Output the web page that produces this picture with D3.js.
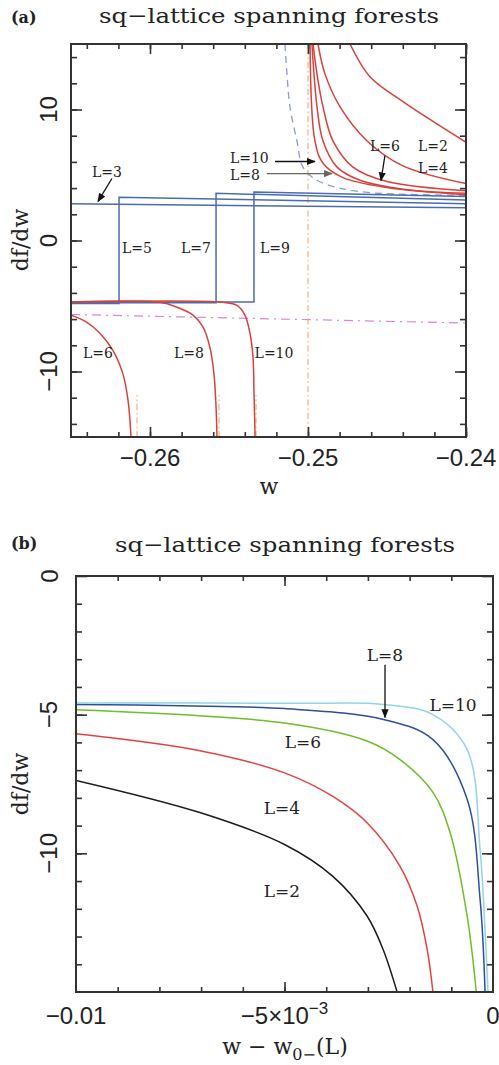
<!DOCTYPE html>
<html>
<head>
<meta charset="utf-8">
<script src="https://cdn.jsdelivr.net/npm/d3@7"></script>
<style>
body { margin: 0; background: #fff; }
svg { display: block; }
</style>
</head>
<body>
<svg id="canvas"></svg>
<script>
// ---------- panel (a) data: df/dw vs w ----------
let aMajorX = [-0.26, -0.25, -0.24]
let aMajorY = [-10, 0, 10]

// blue step curves (odd L)
let stepL3 = [[-0.265, 2.8], [-0.24, 2.5]]
let stepL5 = [[-0.265, -4.8], [-0.26196, -4.8], [-0.26196, 3.3], [-0.24, 2.8]]
let stepL7 = [[-0.265, -4.75], [-0.25582, -4.75], [-0.25582, 3.6], [-0.24, 3.1]]
let stepL9 = [[-0.265, -4.7], [-0.25342, -4.7], [-0.25342, 3.7], [-0.24, 3.35]]

// red curves right of w = -1/4 (even L)
let upL2 = [[-0.24734, 15], [-0.24608, 12.5], [-0.24399, 10.6], [-0.24184, 8.9], [-0.24, 7.5]]
let upL4 = [[-0.24937, 15], [-0.24892, 12.7], [-0.24797, 10.2], [-0.24626, 7.6], [-0.24399, 5.7], [-0.24, 4.35]]
let upL6 = [[-0.24968, 15], [-0.24943, 12.7], [-0.24905, 10.2], [-0.24842, 7.6], [-0.24715, 5.6], [-0.245, 4.5], [-0.24, 3.8]]
let upL8 = [[-0.24975, 15], [-0.24943, 10.2], [-0.24905, 7.6], [-0.24816, 5.6], [-0.24671, 4.6], [-0.24355, 3.85], [-0.24, 3.6]]
let upL10 = [[-0.24987, 15], [-0.24956, 7.6], [-0.24905, 5.9], [-0.24778, 4.8], [-0.245, 4.05], [-0.24, 3.5]]

// red curves left of the transition (even L)
let loL6 = [[-0.265, -5.7], [-0.26401, -6.23], [-0.26316, -7.1], [-0.26234, -8.4], [-0.26171, -10.2], [-0.26139, -12.2], [-0.2612, -15]]
let loL8 = [[-0.265, -4.7], [-0.25937, -4.72], [-0.25829, -5.1], [-0.25728, -5.7], [-0.25665, -6.6], [-0.2562, -8.2], [-0.25595, -10.2], [-0.25582, -12.7], [-0.25576, -15]]
let loL10 = [[-0.265, -4.7], [-0.25538, -4.72], [-0.25449, -4.95], [-0.25399, -5.7], [-0.25367, -7.1], [-0.25348, -8.9], [-0.25342, -11.45], [-0.25335, -15]]

// limiting curves
let dashedLim = [[-0.25146, 15], [-0.25133, 12.7], [-0.25114, 10.2], [-0.2507, 7.6], [-0.25032, 5.6], [-0.24943, 4.6], [-0.24816, 4.05], [-0.24608, 3.65], [-0.24, 3.45]]
let pinkLim = [[-0.265, -5.65], [-0.24, -6.3]]
let wCrit = -0.25
let wMarks = [-0.26082, -0.25563, -0.25329]
let wMarkTop = -11.8

let aLabels = [
    {t: 'L=3', x: -0.26272, y: 5.2, a: 'middle'},
    {t: 'L=5', x: -0.26082, y: -0.55, a: 'middle'},
    {t: 'L=7', x: -0.25709, y: -0.55, a: 'middle'},
    {t: 'L=9', x: -0.25209, y: -0.55, a: 'middle'},
    {t: 'L=10', x: -0.25494, y: 6.3, a: 'start'},
    {t: 'L=8', x: -0.25494, y: 5.0, a: 'start'},
    {t: 'L=6', x: -0.24513, y: 7.2, a: 'middle'},
    {t: 'L=2', x: -0.24209, y: 7.2, a: 'middle'},
    {t: 'L=4', x: -0.24209, y: 5.5, a: 'middle'},
    {t: 'L=6', x: -0.26424, y: -8.55, a: 'start'},
    {t: 'L=8', x: -0.25753, y: -8.55, a: 'middle'},
    {t: 'L=10', x: -0.25215, y: -8.55, a: 'middle'}
]
let aArrows = [
    {from: [-0.26241, 4.73], to: [-0.26329, 2.98], c: '#111'},
    {from: [-0.25209, 6.03], to: [-0.24956, 6.03], c: '#111'},
    {from: [-0.2526, 5.11], to: [-0.24848, 5.11], c: '#666'},
    {from: [-0.24513, 6.49], to: [-0.24538, 4.58], c: '#111'}
]

// ---------- panel (b) data: df/dw vs w - w0-(L) ----------
let bMajorY = [0, -5, -10]
let bL10 = [[-0.01, -4.58], [-0.007, -4.58], [-0.0045, -4.59], [-0.00264, -4.63], [-0.00144, -5.0], [-0.00062, -6.26], [-0.00031, -9.86], [-0.00019, -12.8], [-0.00012, -15]]
let bL8 = [[-0.01, -4.63], [-0.0075, -4.68], [-0.005, -4.78], [-0.0026, -5.18], [-0.00144, -5.9], [-0.00062, -8.05], [-0.00031, -11.65], [-0.00019, -15]]
let bL6 = [[-0.01, -4.82], [-0.005, -5.3], [-0.00302, -5.95], [-0.00223, -6.62], [-0.00144, -7.8], [-0.00103, -9.25], [-0.00062, -12.26], [-0.0004, -15]]
let bL4 = [[-0.01, -5.69], [-0.00703, -6.3], [-0.005, -7.1], [-0.00384, -7.95], [-0.00302, -8.9], [-0.00223, -10.47], [-0.00182, -11.9], [-0.00158, -13.45], [-0.00144, -15]]
let bL2 = [[-0.01, -7.37], [-0.00703, -8.53], [-0.005, -9.68], [-0.00384, -10.83], [-0.00302, -12.26], [-0.00264, -13.45], [-0.0023, -15]]

let bLabels = [
    {t: 'L=8', x: -0.00259, y: -2.84, a: 'middle'},
    {t: 'L=10', x: -0.00096, y: -4.64, a: 'middle'},
    {t: 'L=6', x: -0.00456, y: -6.0, a: 'middle'},
    {t: 'L=4', x: -0.00506, y: -8.38, a: 'middle'},
    {t: 'L=2', x: -0.00506, y: -11.37, a: 'middle'}
]
let bArrows = [{from: [-0.00259, -3.2], to: [-0.00259, -5.1], c: '#111'}]

let width = 499
let height = 1065
let serif = "'DejaVu Serif', serif"
let sans = "'Liberation Sans', Arial, sans-serif"

let canvas = d3.select('#canvas').attr('width', width).attr('height', height)

let defs = canvas.append('defs')
;['#111', '#666'].forEach((c, i) => {
    defs.append('marker')
        .attr('id', 'arrow' + i)
        .attr('viewBox', '0 0 10 10')
        .attr('refX', 9).attr('refY', 5)
        .attr('markerWidth', 9).attr('markerHeight', 9)
        .attr('markerUnits', 'userSpaceOnUse')
        .attr('orient', 'auto')
        .append('path')
        .attr('d', 'M0,1 L10,5 L0,9 Z')
        .attr('fill', c)
})

let drawFrame = (g, xScale, yScale, xMinor, yMinor, xMajor, yMajor, id) => {
    let [x0, x1] = xScale.range()
    let [y1, y0] = yScale.range()

    defs.append('clipPath').attr('id', id)
        .append('rect')
        .attr('x', x0).attr('y', y0).attr('width', x1 - x0).attr('height', y1 - y0)

    let axes = [
        [d3.axisBottom(xScale), xMinor, -5, y1, true],
        [d3.axisBottom(xScale), xMajor, -10, y1, true],
        [d3.axisTop(xScale), xMinor, -5, y0, true],
        [d3.axisTop(xScale), xMajor, -10, y0, true],
        [d3.axisLeft(yScale), yMinor, -6, x0, false],
        [d3.axisLeft(yScale), yMajor, -11, x0, false],
        [d3.axisRight(yScale), yMinor, -6, x1, false],
        [d3.axisRight(yScale), yMajor, -11, x1, false]
    ]
    axes.forEach(([ax, vals, size, pos, horiz]) => {
        let a = g.append('g')
            .attr('transform', horiz ? 'translate(0,' + pos + ')' : 'translate(' + pos + ',0)')
            .call(ax.tickValues(vals).tickSize(size).tickFormat(''))
        a.select('.domain').remove()
        a.selectAll('line').attr('stroke', '#333').attr('stroke-width', 1.6)
    })

    g.append('rect')
        .attr('x', x0).attr('y', y0).attr('width', x1 - x0).attr('height', y1 - y0)
        .attr('fill', 'none').attr('stroke', '#333').attr('stroke-width', 2)
}

let drawCurve = (g, data, xScale, yScale, color, opts = {}) => {
    let line = d3.line()
        .x(d => xScale(d[0]))
        .y(d => yScale(d[1]))
        .curve(opts.smooth ? d3.curveCatmullRom.alpha(0.5) : d3.curveLinear)
    g.append('path')
        .datum(data)
        .attr('d', line)
        .attr('fill', 'none')
        .attr('stroke', color)
        .attr('stroke-width', opts.w || 1.5)
        .attr('stroke-dasharray', opts.dash || null)
}

let drawLabels = (g, labels, xScale, yScale, size) => {
    g.selectAll(null)
        .data(labels)
        .enter()
        .append('text')
        .attr('x', d => xScale(d.x))
        .attr('y', d => yScale(d.y))
        .attr('text-anchor', d => d.a)
        .attr('dominant-baseline', 'central')
        .attr('font-family', serif)
        .attr('font-size', size)
        .attr('fill', '#222')
        .text(d => d.t)
}

let drawArrows = (g, arrows, xScale, yScale) => {
    arrows.forEach(d => {
        g.append('line')
            .attr('x1', xScale(d.from[0])).attr('y1', yScale(d.from[1]))
            .attr('x2', xScale(d.to[0])).attr('y2', yScale(d.to[1]))
            .attr('stroke', d.c).attr('stroke-width', 1.3)
            .attr('marker-end', 'url(#arrow' + (d.c === '#666' ? 1 : 0) + ')')
    })
}

let drawTitle = (x, y, tag, tagY) => {
    canvas.append('text')
        .attr('x', x).attr('y', y)
        .attr('text-anchor', 'middle')
        .attr('font-family', serif).attr('font-size', 21)
        .attr('textLength', 340).attr('lengthAdjust', 'spacingAndGlyphs')
        .attr('fill', '#222')
        .text('sq−lattice spanning forests')
    canvas.append('text')
        .attr('x', 11).attr('y', tagY)
        .attr('font-family', serif).attr('font-size', 16).attr('font-weight', 'bold')
        .attr('fill', '#222')
        .text(tag)
}

let rotLabel = (x, y, txt, size, font) => {
    canvas.append('text')
        .attr('x', x).attr('y', y)
        .attr('transform', 'rotate(-90,' + x + ',' + y + ')')
        .attr('text-anchor', 'middle')
        .attr('dominant-baseline', 'central')
        .attr('font-family', font).attr('font-size', size)
        .attr('fill', '#222')
        .text(txt)
}

// ================= panel (a) =================
let xA = d3.scaleLinear().domain([-0.265, -0.24]).range([71, 466])
let yA = d3.scaleLinear().domain([-15, 15]).range([437, 44])

drawTitle(269, 23, '(a)', 23)

let gA = canvas.append('g')
let plotA = gA.append('g').attr('clip-path', 'url(#clipA)')

// reference lines
drawCurve(plotA, [[wCrit, -15], [wCrit, 15]], xA, yA, '#f0a060', {w: 1, dash: '1.5,3,6,3'})
wMarks.forEach(w => drawCurve(plotA, [[w, -15], [w, wMarkTop]], xA, yA, '#f0a060', {w: 1, dash: '6,3,1.5,3'}))
drawCurve(plotA, pinkLim, xA, yA, '#d48ad6', {w: 1.2, dash: '9,5,2,5'})
drawCurve(plotA, dashedLim, xA, yA, '#8e9ad8', {w: 1.3, dash: '7,5', smooth: true})

// blue steps
;[stepL3, stepL5, stepL7, stepL9].forEach(s => drawCurve(plotA, s, xA, yA, '#4a6db2', {w: 1.5}))

// red curves
;[upL2, upL4, upL6, upL8, upL10, loL6, loL8, loL10].forEach(s => drawCurve(plotA, s, xA, yA, '#d9413c', {w: 1.5, smooth: true}))

drawFrame(gA, xA, yA, d3.range(-0.264, -0.2399, 0.002), d3.range(-14, 15, 2), aMajorX, aMajorY, 'clipA')

drawLabels(gA, aLabels, xA, yA, 14)
drawArrows(gA, aArrows, xA, yA)

// tick labels
gA.selectAll(null).data(aMajorX).enter().append('text')
    .attr('x', d => xA(d)).attr('y', 466)
    .attr('text-anchor', 'middle')
    .attr('font-family', sans).attr('font-size', 24)
    .attr('fill', '#222')
    .text(d => d3.format('.2f')(d).replace('-', '−'))
aMajorY.forEach(v => rotLabel(48, yA(v), d3.format('d')(v).replace('-', '−'), 24, sans))
rotLabel(20, 240, 'df/dw', 22, serif)
canvas.append('text')
    .attr('x', 269).attr('y', 494)
    .attr('text-anchor', 'middle')
    .attr('font-family', serif).attr('font-size', 22)
    .attr('fill', '#222')
    .text('w')

// ================= panel (b) =================
let xB = d3.scaleLinear().domain([-0.01, 0]).range([76, 493])
let yB = d3.scaleLinear().domain([-15, 0]).range([992, 576])

drawTitle(285, 552, '(b)', 549)

let gB = canvas.append('g')
let plotB = gB.append('g').attr('clip-path', 'url(#clipB)')

let bSeries = [
    [bL2, '#1c1c1c'],
    [bL4, '#e2433e'],
    [bL6, '#6fbe2c'],
    [bL8, '#2f4f98'],
    [bL10, '#92d4e8']
]
bSeries.forEach(([s, c]) => drawCurve(plotB, s, xB, yB, c, {w: 1.5, smooth: true}))

drawFrame(gB, xB, yB, d3.range(-0.009, 0, 0.001), d3.range(-14, 0, 1), [-0.005], bMajorY, 'clipB')

drawLabels(gB, bLabels, xB, yB, 17)
drawArrows(gB, bArrows, xB, yB)

bMajorY.forEach(v => rotLabel(49, yB(v), d3.format('d')(v).replace('-', '−'), 24, sans))
rotLabel(20, 784, 'df/dw', 22, serif)

let bxTicks = [-0.01, -0.005, 0]
bxTicks.forEach(v => {
    let t = gB.append('text')
        .attr('x', xB(v)).attr('y', 1024)
        .attr('text-anchor', 'middle')
        .attr('font-family', sans).attr('font-size', 24)
        .attr('fill', '#222')
    if (v === -0.005) {
        t.append('tspan').text('−5×10')
        t.append('tspan').attr('dy', -10).attr('font-size', 17).text('−3')
    } else {
        t.text(v === 0 ? '0' : '−0.01')
    }
})

let xl = canvas.append('text')
    .attr('x', 285).attr('y', 1054)
    .attr('text-anchor', 'middle')
    .attr('font-family', serif).attr('font-size', 22)
    .attr('fill', '#222')
xl.append('tspan').text('w − w')
xl.append('tspan').attr('dy', 6).attr('font-size', 16).text('0−')
xl.append('tspan').attr('dy', -6).text('(L)')
</script>
</body>
</html>
